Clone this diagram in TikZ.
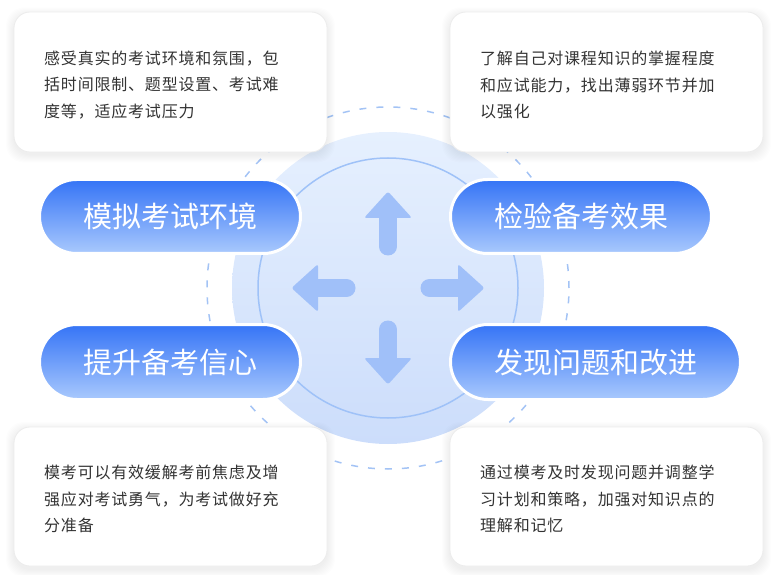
\documentclass[tikz,border=0pt]{standalone}
\usepackage{fontspec}
\setmainfont{Noto Sans CJK SC}
\usetikzlibrary{shapes.misc}
\definecolor{pilltop}{HTML}{3574F6}
\definecolor{pillbot}{HTML}{A9C9FD}
\definecolor{disctop}{HTML}{E6F0FE}
\definecolor{discbot}{HTML}{CCDDFB}
\definecolor{ringc}{HTML}{9FC2F8}
\definecolor{dashc}{HTML}{A3C3F5}
\definecolor{arrowc}{HTML}{A0C0F9}
\definecolor{txtc}{HTML}{333333}
\definecolor{cardline}{HTML}{ECECEC}
\newcommand\cardfont{\fontsize{16pt}{26.5pt}\selectfont\addfontfeature{LetterSpace=5}}
\newcommand\pillfont{\fontsize{29pt}{32pt}\selectfont}
\tikzset{
  card/.style={rectangle, rounded corners=16pt, fill=white, draw=cardline, line width=0.8pt, inner sep=0pt},
  cardtext/.style={anchor=west, inner sep=0pt, align=left, text=txtc, font=\cardfont},
  pill/.style={rounded rectangle, draw=white, line width=3pt, top color=pilltop, bottom color=pillbot, minimum height=74pt, inner sep=0pt, text=white, font=\pillfont},
  arrowshaft/.style={draw=arrowc, line width=18pt, line cap=round},
  arrowhead/.style={fill=arrowc, rounded corners=2.5pt},
}
\begin{document}
\begin{tikzpicture}[x=1pt,y=1pt]
\useasboundingbox (0,0) rectangle (774,574);
% centre decoration
\coordinate (ctr) at (388,286);
\draw[dashc, line width=1.5pt, dash pattern=on 7pt off 10pt] (ctr) circle (181);
\shade[top color=disctop, bottom color=discbot] (ctr) circle (156);
\draw[ringc, line width=1.5pt] (ctr) circle (130);
\foreach \ang in {0,90,180,270}{
  \begin{scope}[shift={(ctr)}, rotate=\ang]
    \draw[arrowshaft] (0,41.5) -- (0,72);
    \fill[arrowhead] (-24,70) -- (0,96.5) -- (24,70) -- cycle;
  \end{scope}
}
% card shadows
\foreach \cx/\cy in {170.5/492, 606.5/492, 170.5/77.5, 606.5/77.5}{
  \foreach \i in {1,...,8}{
    \fill[black, opacity=0.007, rounded corners=18pt] ({\cx-156.5-\i},{\cy-69.5-\i-3}) rectangle ({\cx+156.5+\i},{\cy+69.5+\i-3});
  }
}
% cards
\node[card, minimum width=313pt, minimum height=140pt] (c1) at (170.5,492) {};
\node[card, minimum width=313pt, minimum height=140pt] (c2) at (606.5,492) {};
\node[card, minimum width=313pt, minimum height=139pt] (c3) at (170.5,77.5) {};
\node[card, minimum width=313pt, minimum height=139pt] (c4) at (606.5,77.5) {};
\node[cardtext] (t1) at (44,489) {感受真实的考试环境和氛围，包\\括时间限制、题型设置、考试难\\度等，适应考试压力};
\node[cardtext] (t2) at (480,489) {了解自己对课程知识的掌握程度\\和应试能力，找出薄弱环节并加\\以强化};
\node[cardtext] (t3) at (44,75) {模考可以有效缓解考前焦虑及增\\强应对考试勇气，为考试做好充\\分准备};
\node[cardtext] (t4) at (480,75) {通过模考及时发现问题并调整学\\习计划和策略，加强对知识点的\\理解和记忆};
% pills
\node[pill, minimum width=261pt] (p1) at (170,357.5) {模拟考试环境};
\node[pill, minimum width=261pt] (p2) at (581,357.5) {检验备考效果};
\node[pill, minimum width=261pt, minimum height=75pt] (p3) at (170,212) {提升备考信心};
\node[pill, minimum width=290pt, minimum height=75pt] (p4) at (595.5,212) {发现问题和改进};
\end{tikzpicture}
\end{document}
